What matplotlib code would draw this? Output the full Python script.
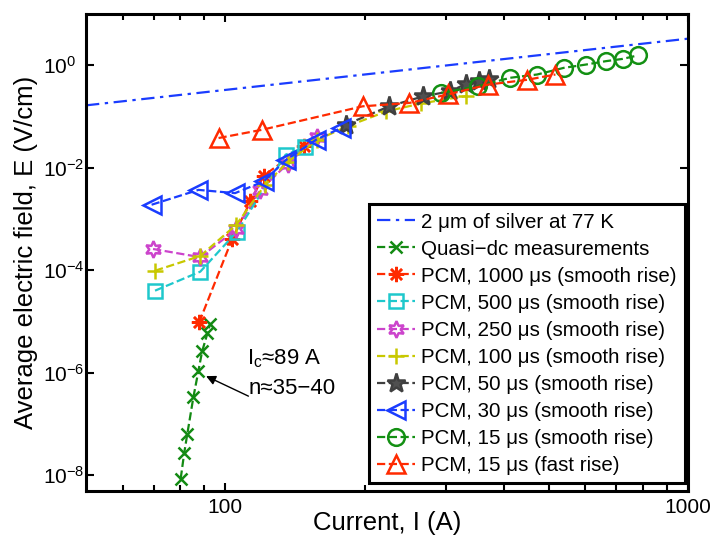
import matplotlib
matplotlib.use('Agg')
import matplotlib.pyplot as plt
from matplotlib.ticker import FixedLocator, NullFormatter, FixedFormatter

plt.rcParams['font.family'] = ['Liberation Sans', 'DejaVu Sans']
plt.rcParams['mathtext.default'] = 'regular'

# ---------------- data ----------------
silver_I = [50, 1000]
silver_E = [0.165, 3.3]

qdc_I = [80.1, 81.5, 82.8, 85.3, 87.5, 89.1, 91.5, 92.7]
qdc_E = [8.6e-9, 2.7e-8, 6.5e-8, 3.3e-7, 1.1e-6, 2.6e-6, 5.9e-6, 8.9e-6]

p1000_I = [87.8, 103.4, 113.3, 121.0, 148.0]
p1000_E = [9.6e-6, 4.0e-4, 2.2e-3, 7.0e-3, 2.6e-2]

p500_I = [70.5, 88.3, 106.0, 135.0, 149.0]
p500_E = [4.0e-5, 9.4e-5, 5.7e-4, 1.8e-2, 2.5e-2]

p250_I = [69.8, 88.3, 105.6, 119.0, 136.5, 158.0]
p250_E = [2.6e-4, 1.8e-4, 6.3e-4, 3.7e-3, 1.2e-2, 4.0e-2]

p100_I = [70.5, 88.3, 105.6, 122.0, 136.5, 158.0, 184.0, 223.0, 265.0, 331.0]
p100_E = [9.8e-5, 1.9e-4, 7.7e-4, 4.7e-3, 1.3e-2, 3.5e-2, 6.5e-2, 0.126, 0.18, 0.25]

p50_I = [182.0, 226.0, 268.0, 306.0, 331.0, 354.0, 372.0]
p50_E = [0.069, 0.158, 0.248, 0.31, 0.43, 0.50, 0.54]

p30_I = [69.3, 87.5, 105.0, 121.0, 135.0, 157.0, 178.0]
p30_E = [1.9e-3, 3.7e-3, 3.2e-3, 5.4e-3, 1.4e-2, 3.5e-2, 0.06]

p15s_I = [293.0, 352.0, 413.0, 472.0, 539.0, 601.0, 664.0, 722.0, 778.0]
p15s_E = [0.29, 0.39, 0.57, 0.66, 0.89, 1.03, 1.20, 1.33, 1.55]

p15f_I = [96.7, 120.0, 198.0, 250.0, 303.0, 370.0, 449.0, 517.0]
p15f_E = [0.038, 0.055, 0.158, 0.184, 0.27, 0.42, 0.52, 0.66]

labels = ['2 μm of silver at 77 K',
          'Quasi−dc measurements',
          'PCM, 1000 μs (smooth rise)',
          'PCM, 500 μs (smooth rise)',
          'PCM, 250 μs (smooth rise)',
          'PCM, 100 μs (smooth rise)',
          'PCM, 50 μs (smooth rise)',
          'PCM, 30 μs (smooth rise)',
          'PCM, 15 μs (smooth rise)',
          'PCM, 15 μs (fast rise)']

x_major = [100, 1000]
x_major_labels = ['100', '1000']
x_minor = [60, 70, 80, 90, 200, 300, 400, 500, 600, 700, 800, 900]
y_major = [1e-8, 1e-6, 1e-4, 1e-2, 1]

# ---------------- plot ----------------
W, H = 712, 540
fig = plt.figure(figsize=(W / 100, H / 100), dpi=100)
ax = fig.add_axes([86 / W, 49.3 / H, 602 / W, 476.7 / H])

lw = 1.6
mew = 1.8
ax.plot(silver_I, silver_E, linestyle=(0, (6, 2.5, 1.5, 2.5)), color='#1a3cff', lw=lw,
        label=labels[0])
ax.plot(qdc_I, qdc_E, '--', color='#138a13', marker='x', ms=8, mew=mew, lw=lw,
        label=labels[1])
ax.plot(p1000_I, p1000_E, '--', color='#ff2a00', marker=(8, 2, 0), ms=11, mew=mew, lw=lw,
        label=labels[2])
ax.plot(p500_I, p500_E, '--', color='#1ec8cc', marker='s', ms=9.5, mfc='none', mew=mew, lw=lw,
        label=labels[3])
ax.plot(p250_I, p250_E, '--', color='#cc44cc', marker=(6, 1, 0), ms=12, mfc='none', mew=mew, lw=lw,
        label=labels[4])
ax.plot(p100_I, p100_E, '--', color='#c8c800', marker='+', ms=12, mew=mew, lw=lw,
        label=labels[5])
ax.plot(p50_I, p50_E, '--', color='#404040', marker='*', ms=14, mfc='#505050', mew=mew, lw=lw,
        label=labels[6])
ax.plot(p30_I, p30_E, '--', color='#1a3cff', marker='<', ms=12.5, mfc='none', mew=mew, lw=lw,
        label=labels[7])
ax.plot(p15s_I, p15s_E, '--', color='#139013', marker='o', ms=12, mfc='none', mew=mew, lw=lw,
        label=labels[8])
ax.plot(p15f_I, p15f_E, '--', color='#ff2a00', marker='^', ms=13, mfc='none', mew=mew, lw=lw,
        label=labels[9])

ax.set_xscale('log')
ax.set_yscale('log')
ax.set_xlim(50, 1000)
ax.set_ylim(5e-9, 10)

ax.xaxis.set_major_locator(FixedLocator(x_major))
ax.xaxis.set_major_formatter(FixedFormatter(x_major_labels))
ax.xaxis.set_minor_locator(FixedLocator(x_minor))
ax.xaxis.set_minor_formatter(NullFormatter())
ax.yaxis.set_major_locator(FixedLocator(y_major))
ax.yaxis.set_minor_locator(FixedLocator([]))

ax.tick_params(which='both', direction='in', top=True, right=True, width=1.5,
               labelsize=15, colors='black')
ax.tick_params(which='major', length=6)
ax.tick_params(which='minor', length=4.5)
ax.tick_params(axis='x', pad=5)
# MATLAB-style: base "10" of every y label starts at the same x
ax.tick_params(axis='y', pad=31)
fig.canvas.draw()
for t in ax.yaxis.get_major_ticks():
    t.label1.set_horizontalalignment('left')

for s in ax.spines.values():
    s.set_linewidth(2.2)

ax.set_xlabel('Current, I (A)', fontsize=18.5)
ax.set_ylabel('Average electric field, E (V/cm)', fontsize=18.5)
ax.xaxis.set_label_coords(0.5, -0.043)
ax.yaxis.set_label_coords(-0.08, 0.5)

ax.annotate('', xy=(90.9, 8.6e-7), xytext=(112.2, 3.5e-7),
            arrowprops=dict(arrowstyle='-|>', color='black', lw=1.0,
                            mutation_scale=14, shrinkA=0, shrinkB=0))
ax.text(111.5, 1.9e-6, 'I$_c$≈89 A', fontsize=16, va='center', ha='left')
ax.text(112.0, 5.0e-7, 'n≈35−40', fontsize=16, va='center', ha='left')

leg = ax.legend(loc='lower right', bbox_to_anchor=(685 / W, (H - 483) / H),
                bbox_transform=fig.transFigure, borderaxespad=0,
                fontsize=14.8, numpoints=1, fancybox=False,
                framealpha=1, edgecolor='black',
                handlelength=1.85, handletextpad=0.3, labelspacing=0.39,
                borderpad=0.4)
leg.get_frame().set_linewidth(2.2)

fig.savefig('out.png', dpi=100)
